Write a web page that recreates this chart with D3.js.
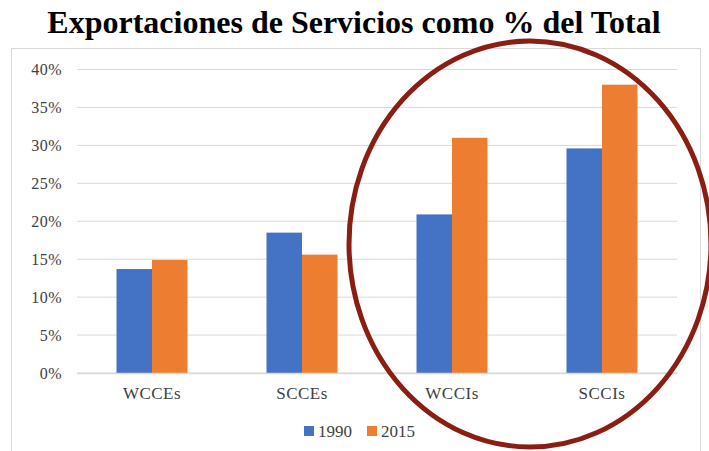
<!DOCTYPE html>
<html>
<head>
<meta charset="utf-8">
<script src="https://cdn.jsdelivr.net/npm/d3@7"></script>
<style>
  body { margin: 0; background: #fff; }
  svg text { font-family: "Liberation Serif", "Times New Roman", serif; fill: #404040; }
</style>
</head>
<body>
<div id="chart"></div>
<script>
const categories = ["WCCEs", "SCCEs", "WCCIs", "SCCIs"]
const seriesNames = ["1990", "2015"]
const values1990 = [13.7, 18.5, 20.9, 29.6]
const values2015 = [14.9, 15.6, 31.0, 38.0]
const yTicks = [0, 5, 10, 15, 20, 25, 30, 35, 40]

const colours = ["#4472C4", "#ED7D31"]
const serif = "'Liberation Serif', 'Times New Roman', serif"
const width = 709
const height = 451
const plot = {left: 77, right: 677, top: 69.5, bottom: 373}

const svg = d3.select("#chart").append("svg")
  .attr("width", width)
  .attr("height", height)

// Chart frame
svg.append("rect")
  .attr("x", 11.5).attr("y", 48.5)
  .attr("width", 689).attr("height", 420)
  .attr("fill", "none")
  .attr("stroke", "#d9d9d9")

// Title
svg.append("text")
  .attr("x", 354).attr("y", 33)
  .attr("text-anchor", "middle")
  .attr("font-family", serif)
  .style("font-size", "32px")
  .style("font-weight", "bold")
  .style("fill", "#000")
  .text("Exportaciones de Servicios como % del Total")

const x0 = d3.scaleBand().domain(categories).range([plot.left, plot.right])
const x1 = d3.scaleBand().domain(seriesNames).range([0, 71])
const y = d3.scaleLinear().domain([0, 40]).range([plot.bottom, plot.top])

// Gridlines
svg.append("g")
  .selectAll("line")
  .data(yTicks)
  .join("line")
  .attr("x1", plot.left).attr("x2", plot.right)
  .attr("y1", d => y(d)).attr("y2", d => y(d))
  .attr("stroke", "#d9d9d9")
  .attr("stroke-width", 1)

// Y axis labels
const yAxis = d3.axisLeft(y).tickValues(yTicks).tickFormat(d => d + "%").tickSize(0).tickPadding(15)
svg.append("g")
  .attr("transform", "translate(" + plot.left + ",0)")
  .call(yAxis)
  .attr("font-family", serif)
  .attr("font-size", 16)
  .call(g => g.select(".domain").remove())
  .selectAll("text")
  .attr("letter-spacing", 0.5)
  .attr("fill", "#404040")

// Bars
const rows = categories.map((c, i) => ({cat: c, vals: [values1990[i], values2015[i]]}))
const groups = svg.append("g").selectAll("g")
  .data(rows)
  .join("g")
  .attr("transform", d => "translate(" + (x0(d.cat) + x0.bandwidth() / 2 - 35.5) + ",0)")

groups.selectAll("rect")
  .data(d => d.vals.map((v, i) => ({name: seriesNames[i], v: v, i: i})))
  .join("rect")
  .attr("x", d => x1(d.name))
  .attr("width", x1.bandwidth())
  .attr("y", d => y(d.v))
  .attr("height", d => y(0) - y(d.v))
  .attr("fill", d => colours[d.i])

// X axis
const xAxis = d3.axisBottom(x0).tickSize(0).tickPadding(14)
svg.append("g")
  .attr("transform", "translate(0," + plot.bottom + ")")
  .call(xAxis)
  .attr("font-family", serif)
  .attr("font-size", 17)
  .call(g => g.select(".domain").attr("stroke", "#d9d9d9").attr("stroke-width", 1.5))
  .selectAll("text")
  .attr("letter-spacing", 0.5)
  .attr("fill", "#404040")

// Legend
const legend = svg.append("g").attr("transform", "translate(304, 426)")
const legendX = [0, 63]
seriesNames.forEach((name, i) => {
  const row = legend.append("g").attr("transform", "translate(" + legendX[i] + ",0)")
  row.append("rect").attr("width", 10).attr("height", 10).attr("fill", colours[i])
  row.append("text").attr("x", 14).attr("y", 10.5)
    .attr("font-family", serif).attr("font-size", 17).text(name)
})

// Highlight ellipse
svg.append("ellipse")
  .attr("cx", 530).attr("cy", 244)
  .attr("rx", 181).attr("ry", 203)
  .attr("fill", "none")
  .attr("stroke", "#8B1E12")
  .attr("stroke-width", 5)
</script>
</body>
</html>
